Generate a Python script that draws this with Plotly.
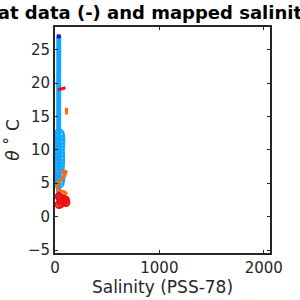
import plotly.graph_objects as go

# float profile (line)
float_theta = [2.0, 4.0, 6.0, 8.0, 10.0, 12.0, 14.0, 16.0, 18.0, 20.0, 22.0, 24.0, 26.0, 27.0]
float_sal = [35.0, 35.0, 34.8, 34.6, 34.7, 34.9, 35.0, 35.2, 35.3, 35.5, 35.6, 35.7, 35.8, 35.8]

# mapped salinity (light blue circles)
map_theta = [5.0, 5.5, 6.0, 6.5, 7.0, 7.5, 8.0, 8.5, 9.0, 9.5, 10.0, 10.5, 11.0, 11.5, 12.0, 12.4]
map_sal = [40, 45, 50, 45, 40, 42, 44, 45, 46, 44, 42, 44, 46, 48, 45, 40]

# orange line segments
orange_theta = [6.6, 6.8, 6.2, 5.5, 4.8, 4.2, 3.9, 3.7, 3.5, 3.3, 3.1]
orange_sal = [50, 110, 95, 50, 25, 20, 50, 90, 105, 95, 50]
orange2_theta = [16.3, 15.3]
orange2_sal = [110, 110]

# red markers / segments
red_theta = [1.8, 2.0, 2.2, 2.4, 2.6, 2.8, 3.0, 2.5, 2.1]
red_sal = [40, 60, 80, 95, 80, 55, 40, 100, 105]
red2_theta = [19.0, 19.1, 19.3]
red2_sal = [30, 65, 100]

top_theta = [27.0]
top_sal = [36.0]

fig = go.Figure()
fig.add_trace(go.Scatter(x=float_sal, y=float_theta, mode="lines",
                         line=dict(color="#12a8ff", width=5)))
fig.add_trace(go.Scatter(x=map_sal, y=map_theta, mode="markers",
                         marker=dict(symbol="circle-open", size=9, color="#12a8ff",
                                     line=dict(width=2, color="#12a8ff"))))
fig.add_trace(go.Scatter(x=orange_sal, y=orange_theta, mode="lines",
                         line=dict(color="#ff6a10", width=3)))
fig.add_trace(go.Scatter(x=orange2_sal, y=orange2_theta, mode="lines",
                         line=dict(color="#ff6a10", width=3)))
fig.add_trace(go.Scatter(x=red_sal, y=red_theta, mode="markers+lines",
                         line=dict(color="#ee1010", width=3),
                         marker=dict(symbol="circle-open", size=7, color="#ee1010",
                                     line=dict(width=2, color="#ee1010"))))
fig.add_trace(go.Scatter(x=red2_sal, y=red2_theta, mode="lines",
                         line=dict(color="#ee1010", width=3)))
fig.add_trace(go.Scatter(x=top_sal, y=top_theta, mode="markers",
                         marker=dict(symbol="square", size=4, color="#1010e0")))

axis_common = dict(showgrid=False, zeroline=False, showline=True, linecolor="#262626",
                   linewidth=2, mirror="ticks", ticks="inside", ticklen=3, automargin=False,
                   tickcolor="#262626", tickfont=dict(family="DejaVu Sans", size=15, color="#262626"))

fig.update_layout(
    width=300, height=300,
    margin=dict(l=55, r=30, t=27, b=47, autoexpand=False),
    paper_bgcolor="white", plot_bgcolor="white",
    showlegend=False,
    annotations=[dict(text="<b>Float data (-) and mapped salinity (o)</b>", x=0.5, xref="paper",
                      xanchor="center", xshift=-5, yref="paper", y=1 + (27 - 13) / (300 - 27 - 47),
                      yanchor="middle", showarrow=False,
                      font=dict(family="DejaVu Sans", size=18, color="black"))],
    xaxis=dict(range=[0, 2060], tickvals=[0, 1000, 2000], title=dict(
        text="Salinity (PSS-78)", standoff=2,
        font=dict(family="DejaVu Sans", size=17, color="#262626")), **axis_common),
    yaxis=dict(range=[-5.45, 28.4], tickvals=[-5, 0, 5, 10, 15, 20, 25], title=dict(
        text="<i>θ</i> ˚ C", standoff=4,
        font=dict(family="DejaVu Sans", size=17, color="#262626")), **axis_common),
)

fig.write_html("out.html")
